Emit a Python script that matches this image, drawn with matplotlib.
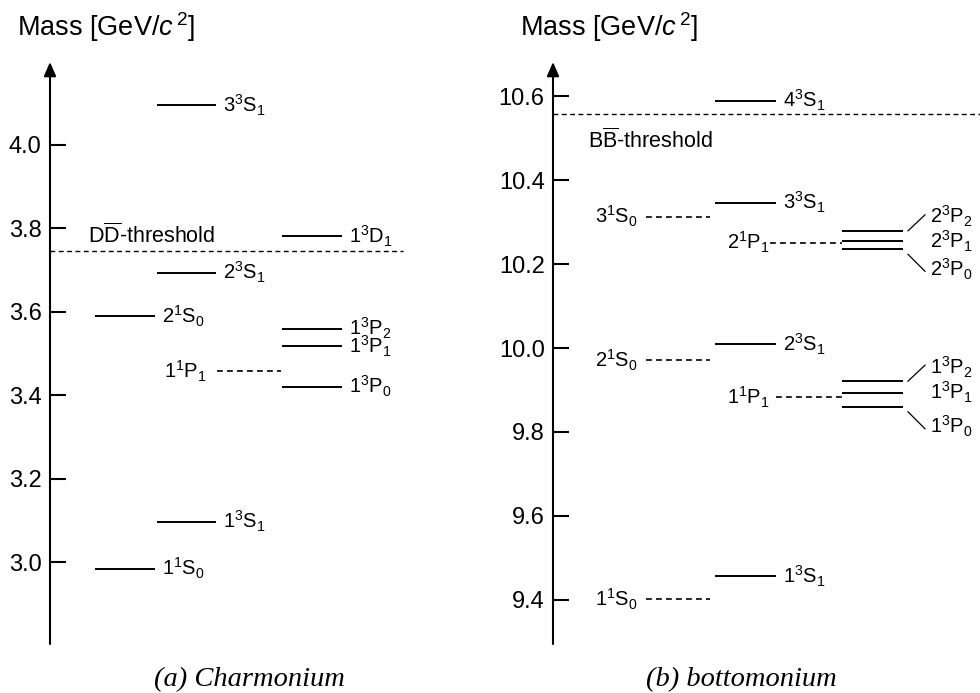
import matplotlib
matplotlib.use("Agg")
import matplotlib.pyplot as plt

plt.rcParams['font.family'] = 'Liberation Sans'
plt.rcParams['mathtext.fontset'] = 'custom'
plt.rcParams['mathtext.rm'] = 'Liberation Sans'
plt.rcParams['mathtext.it'] = 'Liberation Sans:italic'
plt.rcParams['mathtext.bf'] = 'Liberation Sans:bold'

# charmonium levels [GeV/c^2]
cc_eta = [2.984, 3.590]
cc_eta_lab = ["1^1S_0", "2^1S_0"]
cc_psi = [3.097, 3.694, 4.096]
cc_psi_lab = ["1^3S_1", "2^3S_1", "3^3S_1"]
cc_chi = [3.420, 3.518, 3.559]
cc_chi_lab = ["1^3P_0", "1^3P_1", "1^3P_2"]
cc_hc = [3.458]
cc_hc_lab = ["1^1P_1"]
cc_d = [3.781]
cc_d_lab = ["1^3D_1"]
cc_thr = 3.745
cc_ticks = [3.0, 3.2, 3.4, 3.6, 3.8, 4.0]

# bottomonium levels [GeV/c^2]
bb_eta = [9.402, 9.971, 10.313]
bb_eta_lab = ["1^1S_0", "2^1S_0", "3^1S_0"]
bb_ups = [9.456, 10.009, 10.346, 10.589]
bb_ups_lab = ["1^3S_1", "2^3S_1", "3^3S_1", "4^3S_1"]
bb_chi1 = [9.860, 9.894, 9.921]
bb_chi1_lab = ["1^3P_0", "1^3P_1", "1^3P_2"]
bb_chi2 = [10.235, 10.255, 10.279]
bb_chi2_lab = ["2^3P_0", "2^3P_1", "2^3P_2"]
bb_h = [9.883, 10.251]
bb_h_lab = ["1^1P_1", "2^1P_1"]
bb_thr = 10.557
bb_ticks = [9.4, 9.6, 9.8, 10.0, 10.2, 10.4, 10.6]

W, H = 980, 693
fig = plt.figure(figsize=(W / 100, H / 100), dpi=100)

LW = 1.4
DASH = (0, (3.5, 2.5))
LAB = 14.5


def mt(s):
    # "n^{2S+1}L_J" written as e.g. "2^3P_1"
    n, s2, L, j = s[0], s[2], s[3], s[5]
    return rf"$\mathrm{{{n}^{{{s2}}}{L}_{{{j}}}}}$"


def panel(x0, x1, ylim, axx):
    # x data is in figure pixels so columns can be laid out directly
    ax = fig.add_axes([x0 / W, 49 / H, (x1 - x0) / W, 582 / H])
    ax.set_xlim(x0, x1)
    ax.set_ylim(*ylim)
    for s in ax.spines.values():
        s.set_visible(False)
    ax.spines['left'].set_position(('data', axx))
    ax.set_xticks([])
    ax.tick_params(axis='y', direction='in', length=11.5, width=1.5,
                   pad=6, labelsize=17)
    ax.annotate('', xy=(axx, ylim[1]), xytext=(axx, ylim[0]),
                arrowprops=dict(arrowstyle='-|>,head_length=0.6,head_width=0.26',
                                lw=1.5, color='k', mutation_scale=14,
                                shrinkA=0, shrinkB=0),
                annotation_clip=False)
    return ax


def px(ax):
    # data units per pixel in y
    y0, y1 = ax.get_ylim()
    return (y1 - y0) / 582


def right_levels(ax, xa, xb, masses, labels, ls='-', lab=True):
    for m, l in zip(masses, labels):
        ax.plot([xa, xb], [m, m], color='k', lw=LW if ls == '-' else 1.1,
                ls=ls, solid_capstyle='butt')
        if lab:
            ax.text(xb + 7, m, mt(l), fontsize=LAB, va='center', ha='left')


def left_levels(ax, xa, xb, masses, labels, gap=7):
    for m, l in zip(masses, labels):
        ax.plot([xa, xb], [m, m], color='k', lw=1.2, ls=DASH)
        ax.text(xa - gap, m, mt(l), fontsize=LAB, va='center', ha='right')


# (a) charmonium
ax1 = panel(0, 490, (2.8034, 4.199), 50)
ax1.set_yticks(cc_ticks)
ax1.set_yticklabels([f"{t:.1f}" for t in cc_ticks])
right_levels(ax1, 95, 155, cc_eta, cc_eta_lab)
right_levels(ax1, 157, 216, cc_psi, cc_psi_lab)
right_levels(ax1, 282, 342, cc_chi, cc_chi_lab)
right_levels(ax1, 282, 342, cc_d, cc_d_lab)
left_levels(ax1, 217, 281, cc_hc, cc_hc_lab, gap=10)
ax1.plot([50, 403], [cc_thr, cc_thr], color='k', lw=1.0, ls=DASH)
ax1.text(88, cc_thr + 16 * px(ax1), r"D$\overline{\mathrm{D}}$-threshold",
         fontsize=15.5, va='center', ha='left')

# (b) bottomonium
ax2 = panel(490, 980, (9.2952, 10.681), 553)
ax2.set_yticks(bb_ticks)
ax2.set_yticklabels([f"{t:.1f}" for t in bb_ticks])
left_levels(ax2, 646, 710, bb_eta, bb_eta_lab, gap=8)
right_levels(ax2, 715, 776, bb_ups, bb_ups_lab)
for chi, labs in ((bb_chi1, bb_chi1_lab), (bb_chi2, bb_chi2_lab)):
    right_levels(ax2, 842, 903, chi, labs, lab=False)
    d = px(ax2)
    ax2.plot([908, 925], [chi[2], chi[2] + 16 * d], color='k', lw=0.9)
    ax2.plot([908, 925], [chi[0] - 5 * d, chi[0] - 22 * d], color='k', lw=0.9)
    ax2.text(930, chi[2] + 14 * d, mt(labs[2]), fontsize=LAB, va='center')
    ax2.text(930, chi[1], mt(labs[1]), fontsize=LAB, va='center')
    ax2.text(930, chi[0] - 20 * d, mt(labs[0]), fontsize=LAB, va='center')
left_levels(ax2, 776, 842, bb_h[:1], bb_h_lab[:1], gap=6)
left_levels(ax2, 770, 842, bb_h[1:], bb_h_lab[1:], gap=0)
ax2.plot([553, 980], [bb_thr, bb_thr], color='k', lw=1.0, ls=DASH)
ax2.text(588, bb_thr - 27 * px(ax2), r"B$\overline{\mathrm{B}}$-threshold",
         fontsize=15.5, va='center', ha='left')

# axis titles and captions
for x in (17, 520):
    fig.text(x / W, 1 - 27 / H, r"Mass [GeV/$c^{\,2}$]", fontsize=19.5,
             va='center', ha='left')
cap = dict(fontsize=20.5, family='Liberation Serif', style='italic',
           va='center', ha='center')
fig.text(249 / W, 1 - 680 / H, "(a) Charmonium", **cap)
fig.text(741 / W, 1 - 680 / H, "(b) bottomonium", **cap)

fig.savefig("out.png", dpi=100)
